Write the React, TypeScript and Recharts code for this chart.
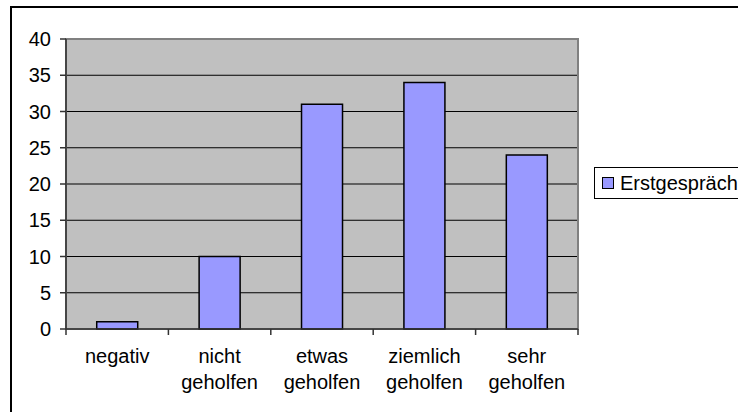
import { BarChart, Bar, XAxis, YAxis, CartesianGrid, Legend, ReferenceArea } from 'recharts';

const categories = ['negativ', 'nicht geholfen', 'etwas geholfen', 'ziemlich geholfen', 'sehr geholfen'];
const erstgespraech = [1, 10, 31, 34, 24];
const yTicks = [0, 5, 10, 15, 20, 25, 30, 35, 40];
const seriesName = 'Erstgespräch';

const FONT = '"Liberation Sans", Arial, sans-serif';
const PLOT_WIDTH = 512;

const chartData = categories.map((c, i) => ({ category: c, value: erstgespraech[i] }));

// Excel puts the x tick marks between categories, and wraps the labels
const CategoryTick = ({ x, y, payload, index }: any) => {
  const half = payload?.offset || PLOT_WIDTH / categories.length / 2;
  const lines = String(payload.value).split(' ');
  return (
    <g>
      <line x1={x - half} y1={y} x2={x - half} y2={y + 6} stroke="#333" strokeWidth={1.5} />
      {index === categories.length - 1 && (
        <line x1={x + half} y1={y} x2={x + half} y2={y + 6} stroke="#333" strokeWidth={1.5} />
      )}
      <text x={x} y={y + 34} textAnchor="middle" fontSize={20} fontFamily={FONT} fill="#000">
        {lines.map((l, i) => (
          <tspan key={i} x={x} dy={i === 0 ? 0 : 26}>{l}</tspan>
        ))}
      </text>
    </g>
  );
};

const LegendBox = () => (
  <div
    style={{
      border: '1px solid #000',
      background: '#fff',
      height: 30,
      width: 170,
      display: 'flex',
      alignItems: 'center',
      fontFamily: FONT,
      fontSize: 20,
      color: '#000',
      whiteSpace: 'nowrap',
    }}
  >
    <span
      style={{
        display: 'inline-block',
        width: 10,
        height: 10,
        background: '#9999FF',
        border: '1px solid #000',
        marginLeft: 7,
        marginRight: 6,
      }}
    />
    {seriesName}
  </div>
);

export default function App() {
  return (
    <div style={{ position: 'absolute', left: 0, top: 0, width: 738, height: 412, overflow: 'hidden', background: '#fff' }}>
      <div
        style={{
          position: 'absolute',
          left: 10,
          top: 6,
          width: 800,
          height: 500,
          border: '2px solid #000',
        }}
      />
      <div style={{ position: 'absolute', left: 0, top: 0 }}>
        <BarChart
          width={738}
          height={412}
          data={chartData}
          margin={{ top: 39, right: 160, bottom: 23, left: 0 }}
          barCategoryGap="30%"
        >
          <CartesianGrid vertical={false} fill="#C0C0C0" stroke="#000" strokeOpacity={1} />
          <ReferenceArea y1={0} y2={40} fill="none" stroke="#808080" strokeWidth={2} ifOverflow="visible" />
          <XAxis
            dataKey="category"
            interval={0}
            height={60}
            tickLine={false}
            tickSize={0}
            tickMargin={0}
            axisLine={{ stroke: '#333', strokeWidth: 1.5 }}
            tick={<CategoryTick />}
          />
          <YAxis
            width={66}
            domain={[0, 40]}
            ticks={yTicks}
            interval={0}
            tickSize={6}
            tickMargin={9}
            axisLine={{ stroke: '#333', strokeWidth: 1.5 }}
            tickLine={{ stroke: '#333', strokeWidth: 1.5 }}
            tick={{ fill: '#000', fontSize: 20, fontFamily: FONT }}
          />
          <Legend
            layout="vertical"
            align="center"
            verticalAlign="middle"
            wrapperStyle={{ left: 594, top: 167, width: 170 }}
            content={() => <LegendBox />}
          />
          <Bar dataKey="value" name={seriesName} fill="#9999FF" stroke="#000" strokeWidth={1.5} isAnimationActive={false} />
        </BarChart>
      </div>
    </div>
  );
}
